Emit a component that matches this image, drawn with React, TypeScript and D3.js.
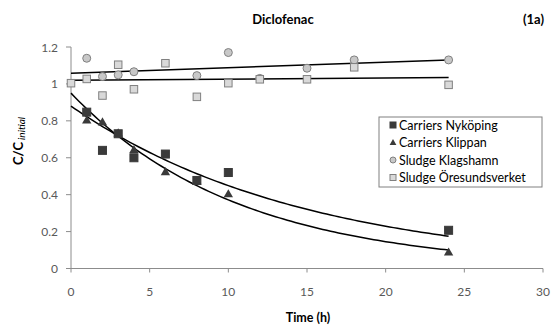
import React from "react";
import * as d3 from "d3";

const W = 555;
const H = 329;

const xTicks = [0, 5, 10, 15, 20, 25, 30];
const yTicks = [0, 0.2, 0.4, 0.6, 0.8, 1.0, 1.2];

const nykTime = [1, 2, 3, 4, 6, 8, 10, 24];
const nykVal = [0.847, 0.64, 0.73, 0.6, 0.62, 0.477, 0.52, 0.207];

const klipTime = [1, 2, 3, 4, 6, 8, 10, 24];
const klipVal = [0.8, 0.79, 0.73, 0.64, 0.52, 0.47, 0.4, 0.085];

const klagTime = [1, 2, 3, 4, 8, 10, 12, 15, 18, 24];
const klagVal = [1.139, 1.04, 1.049, 1.066, 1.045, 1.17, 1.03, 1.085, 1.13, 1.13];

const oreTime = [0, 1, 2, 3, 4, 6, 8, 10, 12, 15, 18, 24];
const oreVal = [1.004, 1.027, 0.937, 1.104, 0.971, 1.112, 0.93, 1.004, 1.025, 1.025, 1.09, 0.995];

// trendline parameters
const nykFit = { a: 0.88, k: 0.0673 };
const klipFit = { a: 0.95, k: 0.0938 };
const klagFit = { b: 1.058, m: 0.003 };
const oreFit = { b: 1.02, m: 0.0006 };
const fitRange = [0, 24];

const legendLabels = [
  "Carriers Nyköping",
  "Carriers Klippan",
  "Sludge Klagshamn",
  "Sludge Öresundsverket",
];

const FONT = "Lato, 'Open Sans', sans-serif";

export default function App() {
  const x = d3.scaleLinear().domain([0, 30]).range([71, 543]);
  const y = d3.scaleLinear().domain([0, 1.2]).range([268.5, 47]);
  const axisColor = "#8c8c8c";
  const tickColor = "#595959";

  const samples = d3.range(fitRange[0], fitRange[1] + 0.001, 0.25);
  const line = d3
    .line<[number, number]>()
    .x((d) => x(d[0]))
    .y((d) => y(d[1]));
  const expPath = (f: { a: number; k: number }) =>
    line(samples.map((t) => [t, f.a * Math.exp(-f.k * t)] as [number, number]))!;
  const linPath = (f: { b: number; m: number }) =>
    line(fitRange.map((t) => [t, f.b + f.m * t] as [number, number]))!;

  const tri = d3.symbol().type(d3.symbolTriangle).size(38)()!;
  const triSmall = d3.symbol().type(d3.symbolTriangle).size(20)()!;

  const square = (cx: number, cy: number, s: number, fill: string, stroke: string, key: string) => (
    <rect key={key} x={cx - s / 2} y={cy - s / 2} width={s} height={s} fill={fill} stroke={stroke} strokeWidth={1} />
  );

  const legX = 393;
  const legY = [125, 142.5, 160, 177.5];

  return (
    <svg width={W} height={H} style={{ position: "absolute", left: 0, top: 0, background: "#fff" }} fontFamily={FONT}>
      {/* title */}
      <text x={283} y={24} textAnchor="middle" fontSize={13} fontWeight="bold" fill="#000">Diclofenac</text>
      <text x={544} y={24} textAnchor="end" fontSize={13} fontWeight="bold" fill="#000">(1a)</text>

      {/* axes */}
      <line x1={x(0)} x2={x(30)} y1={y(0)} y2={y(0)} stroke={axisColor} />
      <line x1={x(0)} x2={x(0)} y1={y(0)} y2={y(1.2)} stroke={axisColor} />
      {xTicks.map((t) => (
        <g key={"xt" + t}>
          <line x1={x(t)} x2={x(t)} y1={y(0)} y2={y(0) + 4} stroke={axisColor} />
          <text x={x(t)} y={296} textAnchor="middle" fontSize={12} fill={tickColor}>{t}</text>
        </g>
      ))}
      {yTicks.map((t) => (
        <g key={"yt" + t}>
          <line x1={x(0) - 5} x2={x(0)} y1={y(t)} y2={y(t)} stroke={axisColor} />
          <text x={58} y={y(t) + 4.5} textAnchor="end" fontSize={12} fill={tickColor}>{d3.format("~g")(t)}</text>
        </g>
      ))}

      {/* axis titles */}
      <text x={308} y={322} textAnchor="middle" fontSize={12.5} fontWeight="bold" fill="#000">Time (h)</text>
      <text transform="translate(23,141) rotate(-90)" textAnchor="middle" fill="#000">
        <tspan fontSize={13} fontWeight="bold">C/C</tspan>
        <tspan fontSize={10} fontStyle="italic" dx={2} dy={2}>initial</tspan>
      </text>

      {/* trendlines */}
      <path d={linPath(klagFit)} fill="none" stroke="#000" strokeWidth={1.5} />
      <path d={linPath(oreFit)} fill="none" stroke="#000" strokeWidth={1.5} />
      <path d={expPath(nykFit)} fill="none" stroke="#000" strokeWidth={1.5} />
      <path d={expPath(klipFit)} fill="none" stroke="#000" strokeWidth={1.5} />

      {/* points */}
      {klagTime.map((t, i) => (
        <circle key={"k" + i} cx={x(t)} cy={y(klagVal[i])} r={4} fill="#c8c8c8" stroke="#808080" strokeWidth={1} />
      ))}
      {oreTime.map((t, i) => square(x(t), y(oreVal[i]), 7.5, "#d9d9d9", "#808080", "o" + i))}
      {klipTime.map((t, i) => (
        <path key={"t" + i} d={tri} transform={`translate(${x(t)},${y(klipVal[i])})`} fill="#3a3a3a" />
      ))}
      {nykTime.map((t, i) => square(x(t), y(nykVal[i]), 8, "#3a3a3a", "#3a3a3a", "n" + i))}

      {/* legend */}
      <rect x={379} y={117} width={163} height={70} fill="#fff" stroke="#808080" strokeWidth={1} />
      {square(legX, legY[0], 6, "#3a3a3a", "#3a3a3a", "l0")}
      <path d={triSmall} transform={`translate(${legX},${legY[1] + 0.5})`} fill="#3a3a3a" />
      <circle cx={legX} cy={legY[2]} r={3} fill="#c8c8c8" stroke="#808080" />
      {square(legX, legY[3], 6, "#d9d9d9", "#808080", "l3")}
      {legendLabels.map((l, i) => (
        <text key={l} x={399} y={legY[i] + 4.5} fontSize={12.5} fill="#000">{l}</text>
      ))}
    </svg>
  );
}
